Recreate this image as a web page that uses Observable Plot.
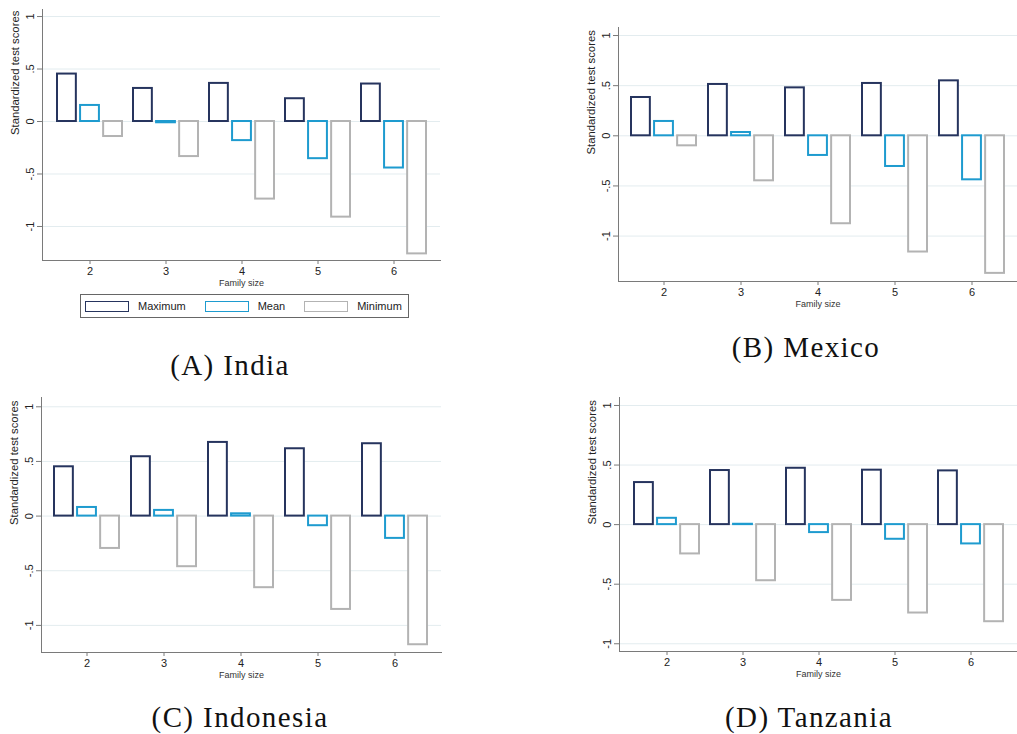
<!DOCTYPE html>
<html><head><meta charset="utf-8">
<script src="https://cdn.jsdelivr.net/npm/d3@7"></script>
<script src="https://cdn.jsdelivr.net/npm/@observablehq/plot@0.6"></script>
<style>
html,body{margin:0;padding:0;background:#fff;overflow:hidden}
#root{position:relative;width:1017px;height:734px}
.panel{position:absolute}
.cap{position:absolute;font-family:"Liberation Serif","Times New Roman",serif;font-size:29px;letter-spacing:1.4px;line-height:28px;white-space:nowrap;transform:translateX(-50%);color:#111}
.legend{position:absolute;box-sizing:border-box;border:1px solid #666;display:flex;align-items:center;padding-left:4px;gap:19px;font-family:"Liberation Sans",Arial,sans-serif;font-size:11px;color:#222}
.legend .item{display:flex;align-items:center}
.legend .sw{box-sizing:border-box;width:44px;height:11px;border:1.5px solid;margin-right:9px;background:#fff}
</style></head><body><div id="root"></div>
<script>
const familySizes = [2, 3, 4, 5, 6];
const seriesNames = ["Maximum", "Mean", "Minimum"];
const seriesColors = ["#26345e", "#1e9bcf", "#b3b3b3"];
const yTicks = [-1, -0.5, 0, 0.5, 1];
const yTickLabels = ["-1", "-.5", "0", ".5", "1"];

const indiaMax = [0.452, 0.315, 0.363, 0.217, 0.357];
const indiaMean = [0.153, -0.012, -0.182, -0.354, -0.443];
const indiaMin = [-0.143, -0.334, -0.739, -0.911, -1.261];

const mexicoMax = [0.382, 0.512, 0.478, 0.522, 0.548];
const mexicoMean = [0.143, 0.033, -0.196, -0.306, -0.439];
const mexicoMin = [-0.100, -0.449, -0.877, -1.159, -1.372];

const indonesiaMax = [0.451, 0.543, 0.674, 0.616, 0.662];
const indonesiaMean = [0.079, 0.052, 0.021, -0.088, -0.204];
const indonesiaMin = [-0.296, -0.463, -0.655, -0.854, -1.177];

const tanzaniaMax = [0.353, 0.454, 0.473, 0.457, 0.451];
const tanzaniaMean = [0.053, 0.003, -0.067, -0.123, -0.162];
const tanzaniaMin = [-0.246, -0.471, -0.636, -0.742, -0.815];

const panels = [
  {caption: "(A) India", series: [indiaMax, indiaMean, indiaMin], yDomain: [-1.324, 1.067],
   left: 0, top: 0, width: 440, marginLeft: 42, height: 292, plotHeight: 251, legend: true, capX: 230, capTop: 351},
  {caption: "(B) Mexico", series: [mexicoMax, mexicoMean, mexicoMin], yDomain: [-1.453, 1.08],
   left: 576, top: 18, width: 441, marginLeft: 42, height: 295, plotHeight: 254, capX: 806, capTop: 332.5},
  {caption: "(C) Indonesia", series: [indonesiaMax, indonesiaMean, indonesiaMin], yDomain: [-1.248, 1.085],
   left: 0, top: 388, width: 441, marginLeft: 41, height: 296, plotHeight: 255, capX: 240, capTop: 702.5},
  {caption: "(D) Tanzania", series: [tanzaniaMax, tanzaniaMean, tanzaniaMin], yDomain: [-1.065, 1.067],
   left: 577, top: 388, width: 440, marginLeft: 42, height: 295, plotHeight: 254, capX: 809, capTop: 702.5}
];

const axisColor = "#7a7a7a";
const gridColor = "#e3ecef";
// bar layout inside each family-size band (pixels)
const groupWidth = 65.3, barStep = 23.07, barWidth = 19.15;

function makePanel(p) {
  const data = [];
  familySizes.forEach((s, i) => seriesNames.forEach((name, j) =>
    data.push({size: s, series: name, value: p.series[j][i]})));
  const yFmt = d => yTickLabels[yTicks.indexOf(d)];
  const bars = seriesNames.map((name, j) =>
    Plot.barY(data.filter(d => d.series === name), {
      x: "size", y: "value", stroke: "series", fill: "white", strokeWidth: 2,
      insetLeft: j * barStep, insetRight: groupWidth - j * barStep - barWidth
    }));
  return Plot.plot({
    width: p.width, height: p.height,
    marginLeft: p.marginLeft, marginRight: 0, marginTop: 9,
    marginBottom: p.height - 9 - p.plotHeight,
    style: {fontFamily: '"Liberation Sans", Arial, sans-serif', background: "transparent", color: "#222", overflow: "visible"},
    x: {domain: familySizes, paddingInner: 0.151, paddingOuter: 0.16},
    y: {domain: p.yDomain},
    color: {domain: seriesNames, range: seriesColors},
    marks: [
      Plot.gridY(yTicks, {stroke: gridColor, strokeOpacity: 1, strokeWidth: 1}),
      ...bars,
      Plot.frame({anchor: "left", stroke: axisColor}),
      Plot.frame({anchor: "bottom", stroke: axisColor}),
      Plot.axisY(yTicks, {tickSize: 5, tickRotate: -90, tickFormat: yFmt, fontSize: 11, stroke: axisColor, fill: "#222", label: null}),
      Plot.axisX({tickSize: 4, tickPadding: 3, fontSize: 11, label: null, stroke: axisColor, fill: "#222"}),
      Plot.text(["Family size"], {text: d => d, frameAnchor: "bottom", dy: 25, fontSize: 9, fill: "#333"}),
      Plot.text(["Standardized test scores"], {text: d => d, frameAnchor: "left", dx: -27, rotate: -90, fontSize: 11.3, fill: "#222"})
    ]
  });
}

const root = document.getElementById("root");
for (const p of panels) {
  const wrap = document.createElement("div");
  wrap.className = "panel";
  wrap.style.left = p.left + "px";
  wrap.style.top = p.top + "px";
  wrap.appendChild(makePanel(p));
  root.appendChild(wrap);

  const cap = document.createElement("div");
  cap.className = "cap";
  cap.textContent = p.caption;
  cap.style.left = p.capX + "px";
  cap.style.top = p.capTop + "px";
  root.appendChild(cap);

  if (p.legend) {
    const lg = document.createElement("div");
    lg.className = "legend";
    lg.style.left = "80px";
    lg.style.top = "294px";
    lg.style.width = "329px";
    lg.style.height = "24px";
    seriesNames.forEach((name, j) => {
      const it = document.createElement("div");
      it.className = "item";
      const sw = document.createElement("span");
      sw.className = "sw";
      sw.style.borderColor = seriesColors[j];
      const tx = document.createElement("span");
      tx.textContent = name;
      it.appendChild(sw);
      it.appendChild(tx);
      lg.appendChild(it);
    });
    root.appendChild(lg);
  }
}
</script>
</body></html>
